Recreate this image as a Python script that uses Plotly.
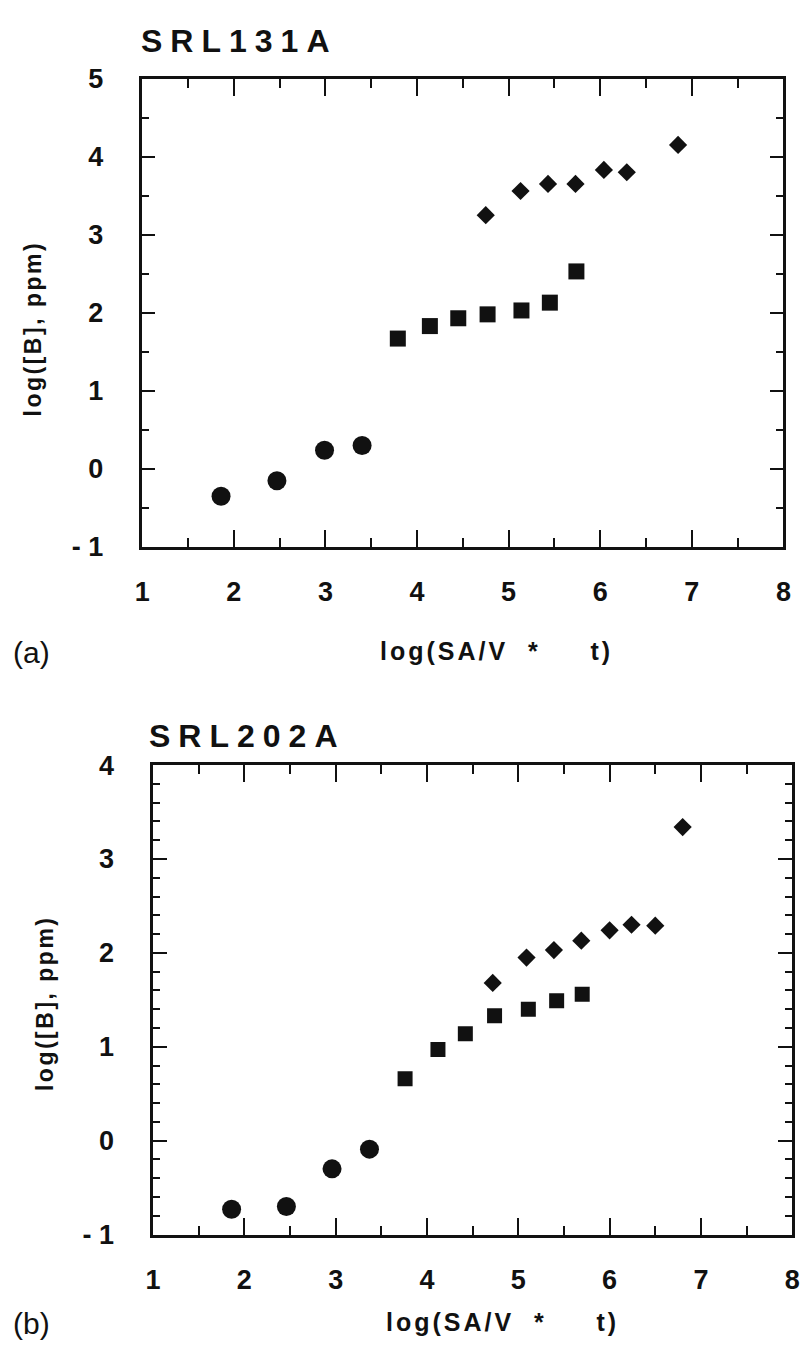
import plotly.graph_objects as go

# ---- panel (a): SRL131A ----
a_circle_x = [1.86, 2.47, 2.99, 3.40]
a_circle_y = [-0.35, -0.15, 0.24, 0.30]
a_square_x = [3.79, 4.14, 4.45, 4.77, 5.14, 5.45, 5.74]
a_square_y = [1.67, 1.83, 1.93, 1.98, 2.03, 2.13, 2.53]
a_diamond_x = [4.75, 5.13, 5.43, 5.73, 6.04, 6.29, 6.85]
a_diamond_y = [3.25, 3.56, 3.65, 3.65, 3.83, 3.80, 4.15]

# ---- panel (b): SRL202A ----
b_circle_x = [1.86, 2.46, 2.96, 3.37]
b_circle_y = [-0.73, -0.70, -0.30, -0.09]
b_square_x = [3.76, 4.12, 4.42, 4.74, 5.11, 5.42, 5.70]
b_square_y = [0.66, 0.97, 1.14, 1.33, 1.40, 1.49, 1.56]
b_diamond_x = [4.72, 5.09, 5.39, 5.69, 6.00, 6.24, 6.50, 6.80]
b_diamond_y = [1.68, 1.95, 2.03, 2.13, 2.24, 2.30, 2.29, 3.34]

x_range = [1, 8]
ya_range = [-1, 5]
yb_range = [-1, 4]
neg_one_label = {"\u22121": "- 1", "-1": "- 1"}

W, H = 811, 1364
FONT = "Liberation Sans, Arial, Helvetica, sans-serif"
INK = "#111111"


def px(x):
    return x / W


def py(y):
    return 1 - y / H


fig = go.Figure()


def add_panel(xa, ya, cx, cy, sx, sy, dx, dy, sq_size):
    fig.add_trace(go.Scatter(x=cx, y=cy, mode="markers", xaxis=xa, yaxis=ya,
                             marker=dict(symbol="circle", size=19, color=INK)))
    fig.add_trace(go.Scatter(x=sx, y=sy, mode="markers", xaxis=xa, yaxis=ya,
                             marker=dict(symbol="square", size=sq_size, color=INK)))
    fig.add_trace(go.Scatter(x=dx, y=dy, mode="markers", xaxis=xa, yaxis=ya,
                             marker=dict(symbol="diamond", size=14, color=INK)))


add_panel("x", "y", a_circle_x, a_circle_y, a_square_x, a_square_y,
          a_diamond_x, a_diamond_y, 16)
add_panel("x2", "y2", b_circle_x, b_circle_y, b_square_x, b_square_y,
          b_diamond_x, b_diamond_y, 15)

# empty traces that register the overlaid label axes (3, 4) and the
# overlaid tick axes (5, 6)
for xa, ya in (("x3", "y3"), ("x4", "y4"), ("x5", "y5"), ("x6", "y6")):
    fig.add_trace(go.Scatter(x=[], y=[], mode="markers", xaxis=xa, yaxis=ya,
                             hoverinfo="skip", showlegend=False))

tick_font = dict(family=FONT, size=27, color=INK, weight="bold")


def tick_axis(domain, rng, major_len, minor_len, minor_dtick, anchor,
              side=None, over=None, line=True):
    """Frame line plus long (integer) and short ticks, no labels."""
    ax = dict(
        domain=domain, range=rng, anchor=anchor,
        showline=line, linecolor=INK, linewidth=3, mirror="ticks",
        tickmode="linear", tick0=0, dtick=1,
        ticks="inside", ticklen=major_len, tickwidth=2, tickcolor=INK,
        showticklabels=False,
        minor=dict(ticks="inside", ticklen=minor_len, tickwidth=2,
                   tickcolor=INK, dtick=minor_dtick, tick0=0,
                   showgrid=False),
        showgrid=False, zeroline=False, fixedrange=True,
    )
    if side:
        ax["side"] = side
    if over:
        ax["overlaying"] = over
    return ax


def label_axis(over, domain, rng, standoff, anchor):
    """Tick-free axis that only carries the numeric labels."""
    return dict(
        overlaying=over, domain=domain, range=rng, anchor=anchor,
        showline=False, ticks="", tickmode="linear", tick0=0, dtick=1,
        labelalias=neg_one_label, tickfont=tick_font,
        ticklabelstandoff=standoff,
        showgrid=False, zeroline=False, fixedrange=True,
    )


xa_dom = [px(137), px(791)]
ya_dom = [py(544), py(65)]
xb_dom = [px(148), px(800)]
yb_dom = [py(1247), py(767)]

fig.update_layout(
    width=W, height=H, margin=dict(l=0, r=0, t=0, b=0),
    paper_bgcolor="white", plot_bgcolor="white", showlegend=False,
    # frames
    xaxis=tick_axis(xa_dom, x_range, 17, 9, 0.5, "y"),
    yaxis=tick_axis(ya_dom, ya_range, 13, 7, 0.5, "x"),
    xaxis2=tick_axis(xb_dom, x_range, 17, 9, 0.5, "y2"),
    yaxis2=tick_axis(yb_dom, yb_range, 14, 7, 0.2, "x2"),
    # numeric labels
    xaxis3=label_axis("x", xa_dom, x_range, 26, "y"),
    yaxis3=label_axis("y", ya_dom, ya_range, 38, "x"),
    xaxis4=label_axis("x2", xb_dom, x_range, 26, "y2"),
    yaxis4=label_axis("y2", yb_dom, yb_range, 38, "x2"),
    # ticks for the bottom and left edges, mirrored from the opposite side
    xaxis5=tick_axis(xa_dom, x_range, 17, 9, 0.5, "y", side="top",
                     over="x", line=False),
    yaxis5=tick_axis(ya_dom, ya_range, 13, 7, 0.5, "x", side="right",
                     over="y", line=False),
    xaxis6=tick_axis(xb_dom, x_range, 17, 9, 0.5, "y2", side="top",
                     over="x2", line=False),
    yaxis6=tick_axis(yb_dom, yb_range, 14, 7, 0.2, "x2", side="right",
                     over="y2", line=False),
)


def label(text, x, y, size, bold=True, spacing=0, angle=0,
          xanchor="left", yanchor="middle"):
    body = text
    if spacing:
        body = f'<span style="letter-spacing:{spacing}px">{text}</span>'
    fig.add_annotation(
        text=body, x=px(x), y=py(y), xref="paper", yref="paper",
        xanchor=xanchor, yanchor=yanchor, showarrow=False, textangle=angle,
        borderpad=0,
        font=dict(family=FONT, size=size, color=INK,
                  weight="bold" if bold else "normal"),
    )


NB = "\u00a0"
x_title = f"log(SA/V{NB * 2}*{NB * 5}t)"
y_title = "log([B], ppm)"

label("SRL131A", 135, 27, 32, spacing=8)
label("SRL202A", 143, 737, 32, spacing=8)
label("(a)", 4, 652, 30, bold=False)
label("(b)", 4, 1338, 30, bold=False)
label(x_title, 378, 650, 25, spacing=3)
label(x_title, 385, 1336, 25, spacing=3)
label(y_title, 25, 321, 23, spacing=2.5, angle=-90, xanchor="center")
label(y_title, 38, 1010, 23, spacing=2.5, angle=-90, xanchor="center")

fig.write_html("out.html")
